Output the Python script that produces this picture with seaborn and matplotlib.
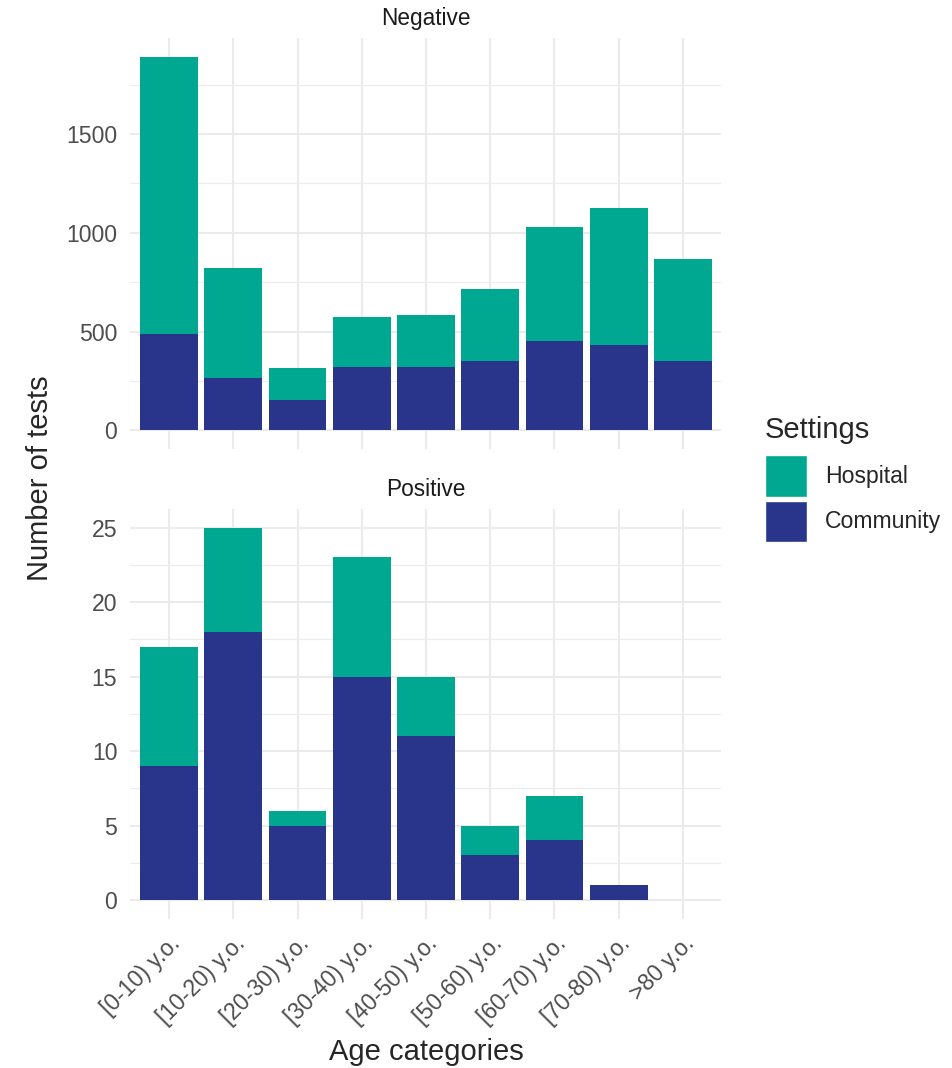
# Tests by age category and setting, split by test result
import pandas as pd
import matplotlib.pyplot as plt
import seaborn as sns
from matplotlib.patches import Patch
from matplotlib.ticker import MultipleLocator

# Data
age_groups = ["[0-10) y.o.", "[10-20) y.o.", "[20-30) y.o.", "[30-40) y.o.",
              "[40-50) y.o.", "[50-60) y.o.", "[60-70) y.o.", "[70-80) y.o.",
              ">80 y.o."]
neg_community = [490, 265, 156, 319, 319, 353, 450, 434, 350]
neg_hospital = [1402, 558, 162, 254, 267, 365, 580, 690, 518]
pos_community = [9, 18, 5, 15, 11, 3, 4, 1, 0]
pos_hospital = [8, 7, 1, 8, 4, 2, 3, 0, 0]

hospital_color = "#00A891"
community_color = "#29358B"
grid_color = "#EBEBEB"

# Long-form table
rows = []
for result, comm, hosp in [("Negative", neg_community, neg_hospital),
                           ("Positive", pos_community, pos_hospital)]:
    for age, c, h in zip(age_groups, comm, hosp):
        rows.append({"result": result, "age": age, "setting": "Community", "n": c})
        rows.append({"result": result, "age": age, "setting": "Hospital", "n": h})
df = pd.DataFrame(rows)

# Stack: hospital sits on top of community
totals = df.groupby(["result", "age"], sort=False)["n"].sum().reset_index()

sns.set_style("white")
plt.rcParams['font.family'] = ['Liberation Sans', 'DejaVu Sans']

W, H = 953, 1068
fig = plt.figure(figsize=(W / 100, H / 100), dpi=100)

left, right = 130.5, 721.5
panels = {
    "Negative": (38, 449, 500, 250),
    "Positive": (509, 918.6, 5, 2.5),
}

axes = {}
for result, (top, bottom, major, minor) in panels.items():
    ax = fig.add_axes([left / W, 1 - bottom / H, (right - left) / W, (bottom - top) / H])
    axes[result] = ax

    tot = totals[totals["result"] == result]
    comm = df[(df["result"] == result) & (df["setting"] == "Community")]

    sns.barplot(data=tot, x="age", y="n", order=age_groups, color=hospital_color,
                width=0.9, errorbar=None, saturation=1, linewidth=0, ax=ax)
    sns.barplot(data=comm, x="age", y="n", order=age_groups, color=community_color,
                width=0.9, errorbar=None, saturation=1, linewidth=0, ax=ax)

    ymax = tot["n"].max()
    ax.set_ylim(-0.05 * ymax, 1.05 * ymax)
    ax.set_xlim(-0.6, len(age_groups) - 0.4)
    ax.yaxis.set_major_locator(MultipleLocator(major))
    ax.yaxis.set_minor_locator(MultipleLocator(minor))

    ax.set_axisbelow(True)
    ax.grid(which="major", color=grid_color, linewidth=1.5)
    ax.grid(which="minor", axis="y", color=grid_color, linewidth=0.8)
    for s in ax.spines.values():
        s.set_visible(False)

    ax.set_xlabel("")
    ax.set_ylabel("")
    ax.tick_params(axis="both", which="both", length=0, labelsize=16.6,
                   labelcolor="#4D4D4D")
    ax.tick_params(axis="y", pad=9.5)

    # facet strip label
    fig.text((left + right) / 2 / W, 1 - (top - 20) / H, result, ha="center",
             va="center", fontsize=16.3, color="#1A1A1A")

axes["Negative"].tick_params(axis="x", labelbottom=False)
axes["Positive"].tick_params(axis="x", pad=9.5)
for lab in axes["Positive"].get_xticklabels():
    lab.set_rotation(45)
    lab.set_ha("right")
    lab.set_rotation_mode("anchor")

fig.text(40 / W, 1 - 478 / H, "Number of tests", rotation=90, ha="center",
         va="center", fontsize=21)
fig.text((left + right) / 2 / W, 1 - 1052 / H, "Age categories", ha="center",
         va="center", fontsize=21)

handles = [Patch(facecolor=hospital_color, label="Hospital"),
           Patch(facecolor=community_color, label="Community")]
leg = fig.legend(handles=handles, title="Settings", loc="upper left",
                 bbox_to_anchor=(765 / W, 1 - 416 / H), frameon=False,
                 fontsize=16.6, title_fontsize=21, handlelength=1.83,
                 handleheight=2.4, labelspacing=0.17, handletextpad=0.78,
                 borderpad=0, borderaxespad=0, alignment="left")
# a bit more room between the legend title and the keys
leg._legend_box.sep = 7.9

plt.savefig("out.png", dpi=100)
